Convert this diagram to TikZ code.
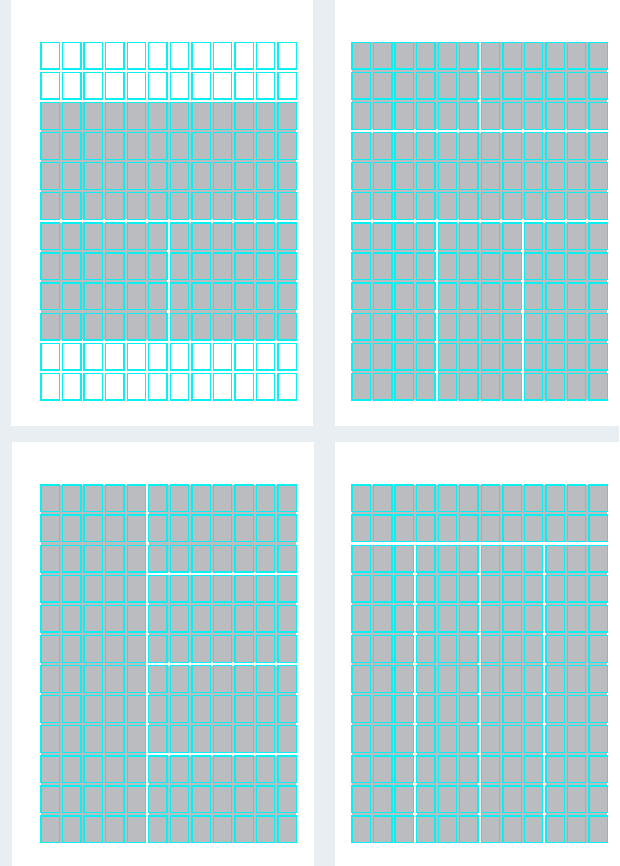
\documentclass[tikz,border=0pt]{standalone}
\definecolor{bgc}{RGB}{233,238,242}
\definecolor{fillgray}{RGB}{187,188,192}
\definecolor{cellcyan}{RGB}{10,240,240}
\tikzset{
  pagebox/.style={fill=white},
  blockfill/.style={fill=fillgray},
  cellline/.style={draw=cellcyan, line width=1.3pt}
}
\newcommand{\cpx}{21.55}
\newcommand{\cpy}{30.1}
\newcommand{\cw}{18.3}
\newcommand{\ch}{26.7}
% \gblock{x0}{y0}{colA}{colB}{rowA}{rowB}
\newcommand{\gblock}[6]{%
  \fill[blockfill] ({#1+(#3-1)*\cpx},{#2+(#5-1)*\cpy}) rectangle ({#1+(#4-1)*\cpx+\cw},{#2+(#6-1)*\cpy+\ch});}
% \gcells{x0}{y0}
\newcommand{\gcells}[2]{%
  \foreach \cc in {0,...,11}{\foreach \rr in {0,...,11}{%
    \draw[cellline] ({#1+\cc*\cpx},{#2+\rr*\cpy}) rectangle ++(\cw,\ch);}}}
\begin{document}
\begin{tikzpicture}[x=1pt,y=-1pt]
\useasboundingbox (0,0) rectangle (619,866);
\fill[bgc] (0,0) rectangle (619,866);
% pages
\fill[pagebox] (11,0) rectangle (313,426);
\fill[pagebox] (335,0) rectangle (619,426);
\fill[pagebox] (12,442) rectangle (314,866);
\fill[pagebox] (335,442) rectangle (619,866);
% panel 1
\gblock{41}{42.3}{1}{12}{3}{6}
\gblock{41}{42.3}{1}{6}{7}{10}
\gblock{41}{42.3}{7}{12}{7}{10}
\gcells{41}{42.3}
% panel 2
\gblock{352}{42.3}{1}{6}{1}{3}
\gblock{352}{42.3}{7}{12}{1}{3}
\gblock{352}{42.3}{1}{12}{4}{6}
\gblock{352}{42.3}{1}{4}{7}{12}
\gblock{352}{42.3}{5}{8}{7}{12}
\gblock{352}{42.3}{9}{12}{7}{12}
\gcells{352}{42.3}
% panel 3
\gblock{41}{485}{1}{5}{1}{12}
\gblock{41}{485}{6}{12}{1}{3}
\gblock{41}{485}{6}{12}{4}{6}
\gblock{41}{485}{6}{12}{7}{9}
\gblock{41}{485}{6}{12}{10}{12}
\gcells{41}{485}
% panel 4
\gblock{352}{485}{1}{12}{1}{2}
\gblock{352}{485}{1}{3}{3}{12}
\gblock{352}{485}{4}{6}{3}{12}
\gblock{352}{485}{7}{9}{3}{12}
\gblock{352}{485}{10}{12}{3}{12}
\gcells{352}{485}
\end{tikzpicture}
\end{document}
